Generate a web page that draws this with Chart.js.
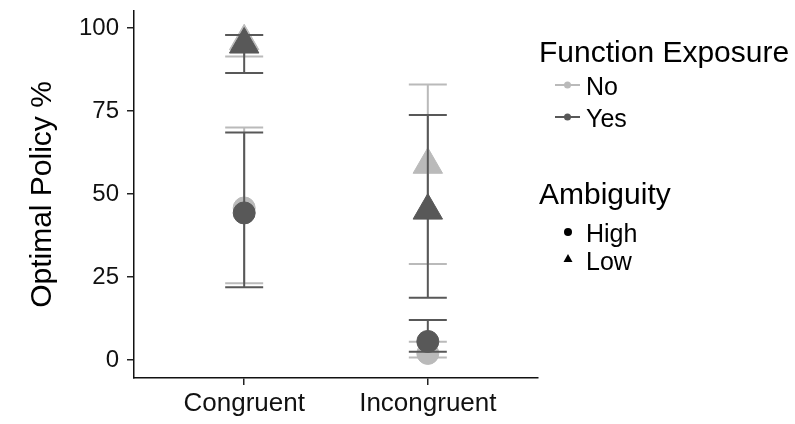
<!DOCTYPE html>
<html lang="en">
<head>
    <meta charset="UTF-8">
    <title>Optimal Policy %</title>
    <style>
        body { margin: 0; background: #fff; font-family: "Liberation Sans", Arial, sans-serif; }
        #wrap { position: relative; width: 795px; height: 424px; }
        .lg { position: absolute; line-height: 1; color: #000; white-space: nowrap; }
        .lg-title { font-size: 30px; }
        .lg-item { font-size: 25px; }
        #keys { position: absolute; left: 0; top: 0; }
    </style>
</head>
<body>
    <div id="wrap">
        <canvas id="chart" width="795" height="424"></canvas>
        <svg id="keys" width="795" height="424">
            <line x1="555" y1="85" x2="580" y2="85" stroke="#bababa" stroke-width="2"/>
            <circle cx="567.5" cy="85" r="3.5" fill="#bababa"/>
            <line x1="555" y1="117" x2="580" y2="117" stroke="#585858" stroke-width="2"/>
            <circle cx="567.5" cy="117" r="3.5" fill="#585858"/>
            <circle cx="568" cy="232" r="4" fill="#000"/>
            <polygon points="568,254 572.5,262 563.5,262" fill="#000"/>
        </svg>
        <div class="lg lg-title" style="left:539px; top:37px;">Function Exposure</div>
        <div class="lg lg-item" style="left:586px; top:74px;">No</div>
        <div class="lg lg-item" style="left:586px; top:106px;">Yes</div>
        <div class="lg lg-title" style="left:539px; top:179px;">Ambiguity</div>
        <div class="lg lg-item" style="left:586px; top:221px;">High</div>
        <div class="lg lg-item" style="left:586px; top:249px;">Low</div>
    </div>
    <script src="https://cdn.jsdelivr.net/npm/chart.js"></script>
    <script>
        const categories = ['Congruent', 'Incongruent'];
        const yTicks = [0, 25, 50, 75, 100];

        // Function Exposure = No (light grey)
        const noHighMean = [45.8, 2.0];
        const noHighLower = [23.1, 0.8];
        const noHighUpper = [70.0, 5.5];
        const noLowMean = [96.0, 58.8];
        const noLowLower = [91.4, 28.9];
        const noLowUpper = [97.9, 83.0];

        // Function Exposure = Yes (dark grey)
        const yesHighMean = [44.3, 5.6];
        const yesHighLower = [21.9, 2.5];
        const yesHighUpper = [68.5, 12.1];
        const yesLowMean = [95.0, 45.0];
        const yesLowLower = [86.4, 18.8];
        const yesLowUpper = [97.9, 73.8];

        const light = '#bababa';
        const dark = '#585858';
        const font = '"Liberation Sans", Arial, sans-serif';

        function makeSet(label, mean, lower, upper, color, style, radius) {
            return {
                label: label,
                data: categories.map((c, i) => ({ x: i + 1, y: mean[i] })),
                lower: lower,
                upper: upper,
                backgroundColor: color,
                borderColor: color,
                borderWidth: 1,
                pointStyle: style,
                pointRadius: radius,
                pointHoverRadius: radius
            };
        }

        // draw the error bars of a dataset just before its points
        const errorBars = {
            id: 'errorBars',
            beforeDatasetDraw(chart, args) {
                const ds = chart.data.datasets[args.index];
                const xs = chart.scales.x, ys = chart.scales.y;
                const ctx = chart.ctx;
                ctx.save();
                ctx.strokeStyle = ds.borderColor;
                ctx.lineWidth = 2;
                ds.data.forEach((p, i) => {
                    const x = xs.getPixelForValue(p.x);
                    const y1 = ys.getPixelForValue(ds.lower[i]);
                    const y2 = ys.getPixelForValue(ds.upper[i]);
                    ctx.beginPath();
                    ctx.moveTo(x, y1); ctx.lineTo(x, y2);
                    ctx.moveTo(x - 19, y1); ctx.lineTo(x + 19, y1);
                    ctx.moveTo(x - 19, y2); ctx.lineTo(x + 19, y2);
                    ctx.stroke();
                });
                ctx.restore();
            }
        };

        new Chart(document.getElementById('chart'), {
            type: 'scatter',
            data: {
                // first dataset is drawn last (on top)
                datasets: [
                    makeSet('Yes High', yesHighMean, yesHighLower, yesHighUpper, dark, 'circle', 11),
                    makeSet('Yes Low', yesLowMean, yesLowLower, yesLowUpper, dark, 'triangle', 17),
                    makeSet('No High', noHighMean, noHighLower, noHighUpper, light, 'circle', 11),
                    makeSet('No Low', noLowMean, noLowLower, noLowUpper, light, 'triangle', 17)
                ]
            },
            plugins: [errorBars],
            options: {
                responsive: false,
                animation: false,
                layout: { autoPadding: false, padding: { top: 11, right: 257, left: 0, bottom: 0 } },
                plugins: { legend: { display: false }, tooltip: { enabled: false } },
                scales: {
                    x: {
                        type: 'linear',
                        min: 0.4,
                        max: 2.6,
                        afterBuildTicks: s => { s.ticks = categories.map((c, i) => ({ value: i + 1 })); },
                        afterFit: s => { s.height = 46; s.paddingLeft = 0; s.paddingRight = 0; },
                        border: { display: true, color: '#111', width: 1.5 },
                        grid: { drawOnChartArea: false, tickLength: 7, color: '#222', lineWidth: 1.5 },
                        ticks: {
                            padding: 3,
                            color: '#111',
                            font: { family: font, size: 26 },
                            callback: v => categories[v - 1] || ''
                        }
                    },
                    y: {
                        min: -5.4,
                        max: 105.1,
                        afterBuildTicks: s => { s.ticks = yTicks.map(v => ({ value: v })); },
                        afterFit: s => { s.width = 134; s.paddingTop = 0; s.paddingBottom = 0; },
                        border: { display: true, color: '#111', width: 1.5 },
                        grid: { drawOnChartArea: false, tickLength: 7, color: '#222', lineWidth: 1.5 },
                        ticks: {
                            padding: 8,
                            color: '#111',
                            font: { family: font, size: 24 }
                        },
                        title: {
                            display: true,
                            text: 'Optimal Policy %',
                            color: '#000',
                            font: { family: font, size: 30 },
                            padding: { top: 25, bottom: 0 }
                        }
                    }
                }
            }
        });
    </script>
</body>
</html>
